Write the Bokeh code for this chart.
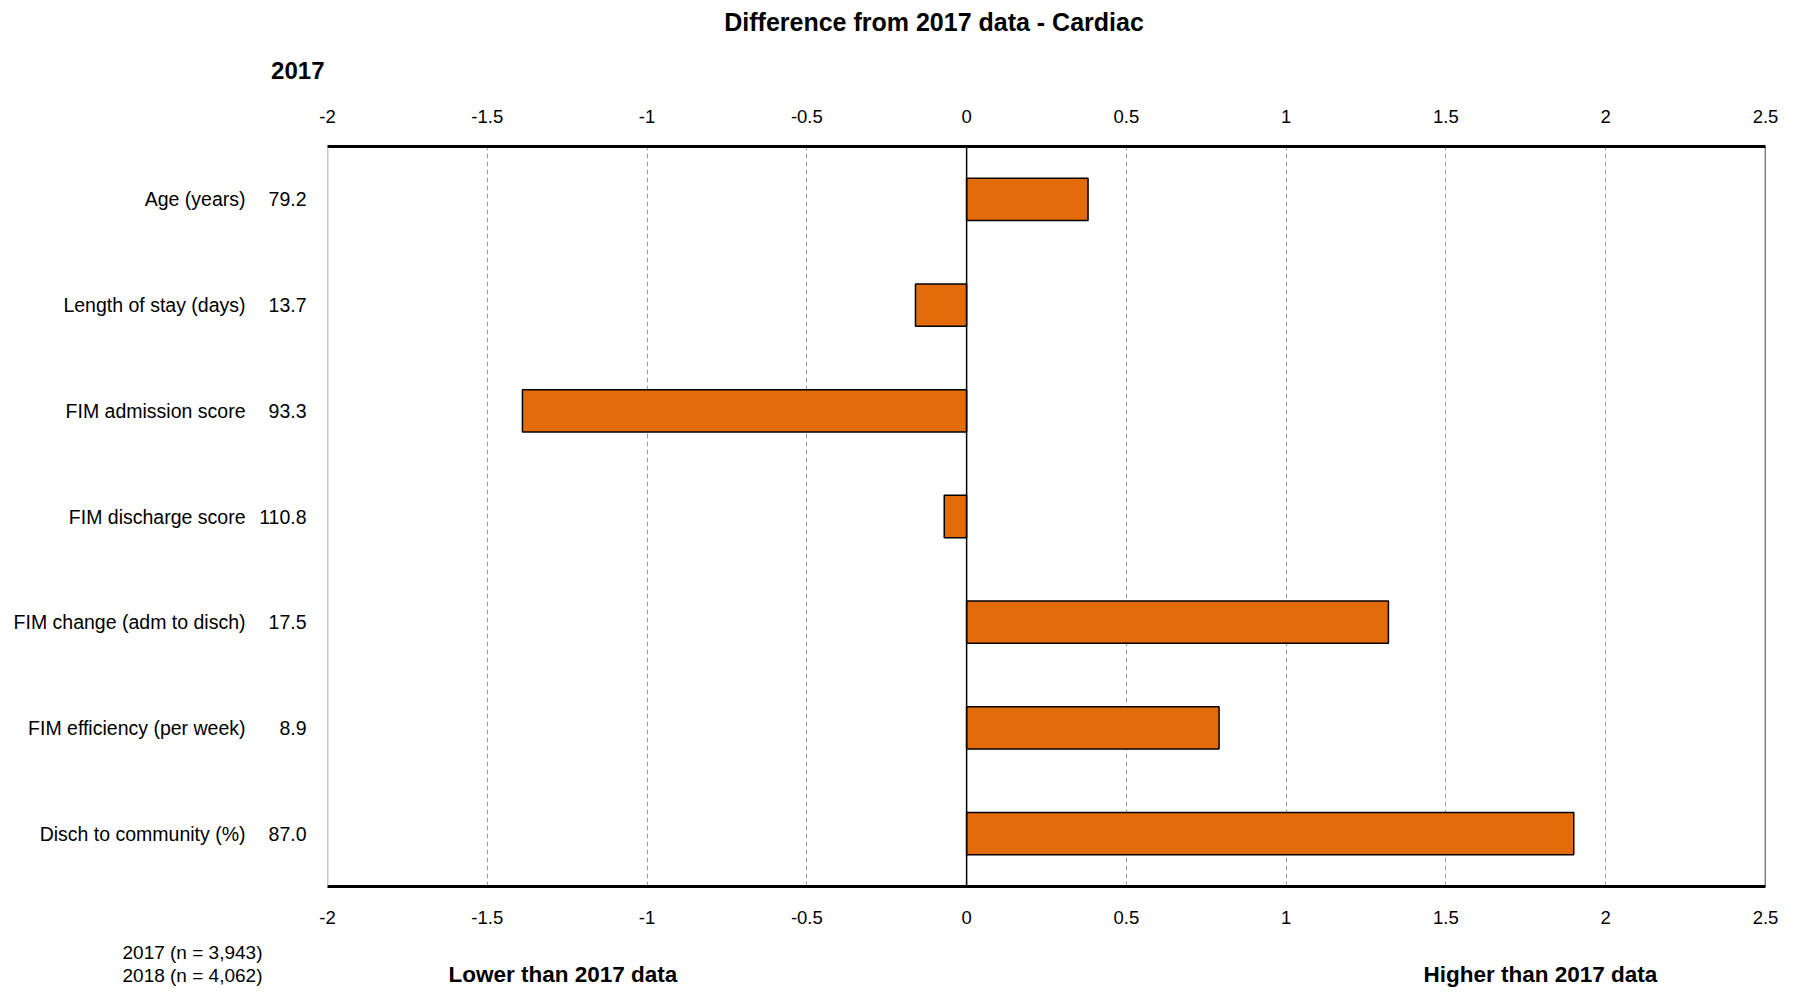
from bokeh.plotting import figure
from bokeh.layouts import column
from bokeh.models import (FactorRange, Range1d, LinearAxis, CategoricalAxis, FixedTicker,
                          Span, Label, ColumnDataSource)
from bokeh.embed import file_html
from bokeh.resources import INLINE

categories = ["Age (years)", "Length of stay (days)", "FIM admission score",
              "FIM discharge score", "FIM change (adm to disch)",
              "FIM efficiency (per week)", "Disch to community (%)"]
values_2017 = ["79.2", "13.7", "93.3", "110.8", "17.5", "8.9", "87.0"]
difference = [0.38, -0.16, -1.39, -0.07, 1.32, 0.79, 1.90]
x_ticks = [-2, -1.5, -1, -0.5, 0, 0.5, 1, 1.5, 2, 2.5]

title_text = "Difference  from 2017 data - Cardiac"
header_text = "2017"
footnotes = ["2017  (n = 3,943)", "2018  (n = 4,062)"]
lower_text = "Lower than 2017 data"
higher_text = "Higher than 2017 data"

FONT = "Liberation Sans"
W = 1786
TOP_H, BOT_H = 90, 50
MAIN_TOP, MAIN_BOT = 90, 938          # canvas rows occupied by the main figure
FL, FR, FT, FB = 327, 1765, 146, 886  # plot frame on the canvas

def strip(height):
    s = figure(width=W, height=height, output_backend="svg", toolbar_location=None,
               x_range=Range1d(0, W), y_range=Range1d(height, 0),
               x_axis_type=None, y_axis_type=None,
               min_border=0, min_border_left=0, min_border_right=0,
               min_border_top=0, min_border_bottom=0, frame_align=False)
    s.outline_line_color = None
    s.grid.grid_line_color = None
    s.background_fill_color = "white"
    s.border_fill_color = "white"
    return s

def label(fig, text, x, y, size, bold=False, align="left"):
    fig.add_layout(Label(x=x, y=y, text=text, text_font=FONT, text_font_size=size,
                         text_font_style="bold" if bold else "normal",
                         text_align=align, text_baseline="middle", text_color="black"))

# ---- top strip: title and column header
top = strip(TOP_H)
label(top, title_text, 937, 21, "25px", True, "center")
label(top, header_text, 324, 70, "24px", True, "right")

# ---- main chart
H = MAIN_BOT - MAIN_TOP
src = ColumnDataSource(dict(cat=categories, diff=difference))
p = figure(width=W, height=H, output_backend="svg", toolbar_location=None,
           y_range=FactorRange(factors=list(reversed(categories))),
           x_range=Range1d(-2, 2.5),
           min_border_left=FL, min_border_right=W - FR,
           min_border_top=FT - MAIN_TOP, min_border_bottom=MAIN_BOT - FB,
           x_axis_location="below", frame_align=False)
p.extra_y_ranges = {"vals": FactorRange(factors=list(reversed(values_2017)))}
p.outline_line_color = None
p.background_fill_color = "white"
p.border_fill_color = "white"

p.hbar(y="cat", left=0, right="diff", height=0.4, source=src,
       fill_color="#E36C0A", line_color="black", line_width=1.5)

p.xgrid.ticker = FixedTicker(ticks=[t for t in x_ticks if t != 0])
p.xgrid.grid_line_color = "#A0A0A0"
p.xgrid.grid_line_dash = "5 3"
p.xgrid.grid_line_width = 1
p.ygrid.grid_line_color = None

p.add_layout(Span(location=0, dimension="height", line_color="black", line_width=1.5))
p.add_layout(Span(location=-2, dimension="height", line_color="#909090", line_width=1.5))
p.add_layout(Span(location=2.5, dimension="height", line_color="black", line_width=1.5))

def style_x(ax):
    ax.ticker = FixedTicker(ticks=x_ticks)
    ax.major_label_overrides = {t: ("%g" % t) for t in x_ticks}
    ax.axis_line_color = "black"
    ax.axis_line_width = 3
    ax.major_tick_line_color = None
    ax.minor_tick_line_color = None
    ax.major_label_text_font = FONT
    ax.major_label_text_font_size = "18.5px"
    ax.major_label_text_color = "black"
    ax.major_label_standoff = 18

style_x(p.xaxis[0])
xt = LinearAxis()
style_x(xt)
p.add_layout(xt, "above")

def style_y(ax, standoff):
    ax.axis_line_color = None
    ax.major_tick_line_color = None
    ax.minor_tick_line_color = None
    ax.major_label_text_font = FONT
    ax.major_label_text_font_size = "19.5px"
    ax.major_label_text_color = "black"
    ax.major_label_standoff = standoff

yv = p.yaxis[0]
yv.y_range_name = "vals"
style_y(yv, 15)

yn = CategoricalAxis()
style_y(yn, 5)
p.add_layout(yn, "left")

# ---- bottom strip: sample sizes and direction notes
bot = strip(BOT_H)
label(bot, footnotes[0], 122, 952 - MAIN_BOT, "19px")
label(bot, footnotes[1], 122, 975 - MAIN_BOT, "19px")
label(bot, lower_text, 448, 974 - MAIN_BOT, "22.5px", True)
label(bot, higher_text, 1423, 974 - MAIN_BOT, "22.5px", True)

layout = column(top, p, bot, spacing=0)
open("out.html", "w").write(file_html(layout, INLINE))
